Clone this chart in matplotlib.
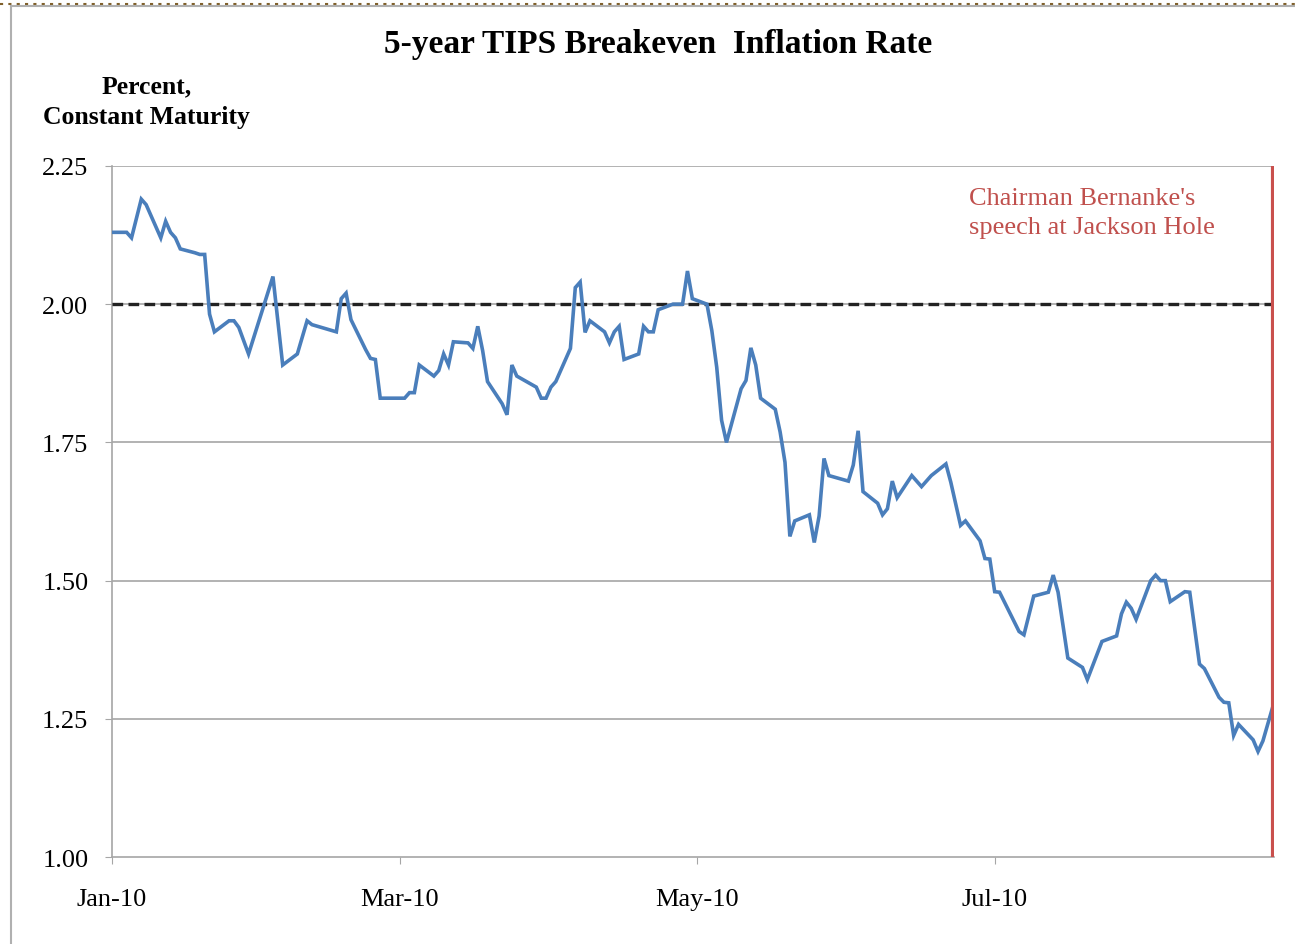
import numpy as np
import pandas as pd
import matplotlib
matplotlib.use("Agg")
import matplotlib.pyplot as plt
import matplotlib.dates as mdates
from matplotlib.lines import Line2D

plt.rcParams['font.family'] = ['Liberation Serif', 'DejaVu Serif']

# 5-year TIPS breakeven (business days, 2010)
dates = [
    "01-01", "01-04", "01-05", "01-07", "01-08", "01-11", "01-12", "01-13", "01-14", "01-15",
    "01-18", "01-19", "01-20", "01-21", "01-22", "01-25", "01-26", "01-27", "01-29",
    "02-03", "02-05", "02-08", "02-10", "02-11", "02-16", "02-17", "02-18", "02-19",
    "02-22", "02-23", "02-24", "02-25",
    "03-02", "03-03", "03-04", "03-05", "03-08", "03-09", "03-10", "03-11", "03-12",
    "03-15", "03-16", "03-17", "03-18", "03-19", "03-22", "03-23", "03-24", "03-25",
    "03-29", "03-30", "03-31",
    "04-01", "04-02", "04-05", "04-06", "04-07", "04-08", "04-09", "04-12", "04-13",
    "04-14", "04-15", "04-16", "04-19", "04-20", "04-21", "04-22", "04-23", "04-26",
    "04-28", "04-29", "04-30",
    "05-03", "05-04", "05-05", "05-06", "05-07", "05-10", "05-11", "05-12", "05-13",
    "05-14", "05-17", "05-18", "05-19", "05-20", "05-21", "05-24", "05-25", "05-26",
    "05-27", "05-28",
    "06-01", "06-02", "06-03", "06-04", "06-07", "06-08", "06-09", "06-10", "06-11",
    "06-14", "06-16", "06-18", "06-21", "06-22", "06-24", "06-25", "06-28", "06-29",
    "06-30",
    "07-01", "07-02", "07-06", "07-07", "07-09", "07-12", "07-13", "07-14", "07-16",
    "07-19", "07-20", "07-23", "07-26", "07-27", "07-28", "07-29", "07-30",
    "08-02", "08-03", "08-04", "08-05", "08-06", "08-09", "08-10", "08-12", "08-13",
    "08-16", "08-17", "08-18", "08-19", "08-20", "08-23", "08-24", "08-25", "08-27",
]
breakeven = [
    2.13, 2.13, 2.12, 2.19, 2.18, 2.12, 2.15, 2.13, 2.12, 2.10,
    2.093, 2.09, 2.09, 1.982, 1.95, 1.97, 1.97, 1.958, 1.91,
    2.05, 1.89, 1.91, 1.97, 1.963, 1.95, 2.01, 2.02, 1.972,
    1.918, 1.902, 1.90, 1.83,
    1.83, 1.84, 1.84, 1.89, 1.87, 1.88, 1.91, 1.89, 1.932,
    1.93, 1.92, 1.96, 1.916, 1.86, 1.82, 1.80, 1.89, 1.87,
    1.85, 1.83, 1.83,
    1.85, 1.86, 1.92, 2.03, 2.04, 1.949, 1.97, 1.95, 1.93,
    1.95, 1.96, 1.90, 1.91, 1.96, 1.95, 1.95, 1.99, 2.00,
    2.00, 2.06, 2.01,
    2.00, 1.952, 1.886, 1.79, 1.75, 1.847, 1.862, 1.921, 1.89,
    1.83, 1.81, 1.769, 1.714, 1.58, 1.608, 1.619, 1.569, 1.617,
    1.721, 1.69,
    1.68, 1.709, 1.771, 1.661, 1.64, 1.619, 1.63, 1.68, 1.65,
    1.69, 1.67, 1.69, 1.711, 1.678, 1.60, 1.608, 1.572, 1.54,
    1.539,
    1.48, 1.479, 1.408, 1.402, 1.472, 1.479, 1.51, 1.479, 1.36,
    1.343, 1.321, 1.39, 1.40, 1.44, 1.461, 1.45, 1.43,
    1.50, 1.51, 1.50, 1.50, 1.462, 1.48, 1.479, 1.349, 1.341,
    1.289, 1.28, 1.279, 1.22, 1.24, 1.212, 1.191, 1.21, 1.271,
]
reference_level = 2.00
speech_date = "2010-08-27"
y_ticks = [1.00, 1.25, 1.50, 1.75, 2.00, 2.25]
x_ticks = ["2010-01-01", "2010-03-01", "2010-05-01", "2010-07-01"]

x = pd.to_datetime(["2010-" + d for d in dates])
speech = pd.Timestamp(speech_date)

fig = plt.figure(figsize=(12.95, 9.45), dpi=100)
ax = fig.add_axes([0.0865, 0.092, 0.8975, 0.7313])

for v in y_ticks[1:]:
    ax.axhline(v, color="#a6a6a6", lw=1.2, zorder=1)
ax.axhline(reference_level, color="#222222", lw=2.4, ls=(0, (3.2, 1.6)), zorder=3)
ax.plot(x, breakeven, color="#4a7ebb", lw=2.6, zorder=4, solid_joinstyle="miter")
ax.axvline(speech, color="#c9504d", lw=3.0, zorder=5)

ax.set_xlim(pd.Timestamp("2010-01-01"), speech + pd.Timedelta(hours=8))
ax.set_ylim(1.0, 2.25)
ax.set_yticks(y_ticks)
ax.set_yticklabels([f"{v:.2f}" for v in y_ticks], fontsize=19)
ax.set_xticks(pd.to_datetime(x_ticks))
ax.xaxis.set_major_formatter(mdates.DateFormatter("%b-%y"))
for lab in ax.get_xticklabels():
    lab.set_fontsize(19)

for s in ["top", "right"]:
    ax.spines[s].set_visible(False)
ax.spines["left"].set_color("#a6a6a6")
ax.spines["bottom"].set_color("#a6a6a6")
ax.spines["left"].set_linewidth(1.2)
ax.spines["bottom"].set_linewidth(1.2)
ax.tick_params(axis="y", length=5, color="#a6a6a6", pad=12)
ax.tick_params(axis="x", length=5, color="#a6a6a6", pad=17)

ax.text(0.737, 0.97, "Chairman Bernanke's\nspeech at Jackson Hole", transform=ax.transAxes,
        color="#c0504d", fontsize=19, va="top", ha="left", linespacing=1.45)

fig.text(0.508, 0.953, "5-year TIPS Breakeven  Inflation Rate", ha="center", va="center",
         fontsize=24, fontweight="bold")
fig.text(0.113, 0.892, "Percent,\nConstant Maturity", ha="center", va="center",
         fontsize=18.5, fontweight="bold", linespacing=1.45)

# chart frame and dotted top border
fig.add_artist(Line2D([0, 1], [1 - 4.5 / 945] * 2, color="#7f5f2a", lw=1.5, ls=(0, (1.5, 2.5))))
fig.add_artist(Line2D([10.5 / 1295, 10.5 / 1295], [0, 1 - 6.5 / 945], color="#b0b0b0", lw=1.5))
fig.add_artist(Line2D([10.5 / 1295, 1], [1 - 6.5 / 945] * 2, color="#b0b0b0", lw=1.5))

fig.savefig("out.png", dpi=100)
